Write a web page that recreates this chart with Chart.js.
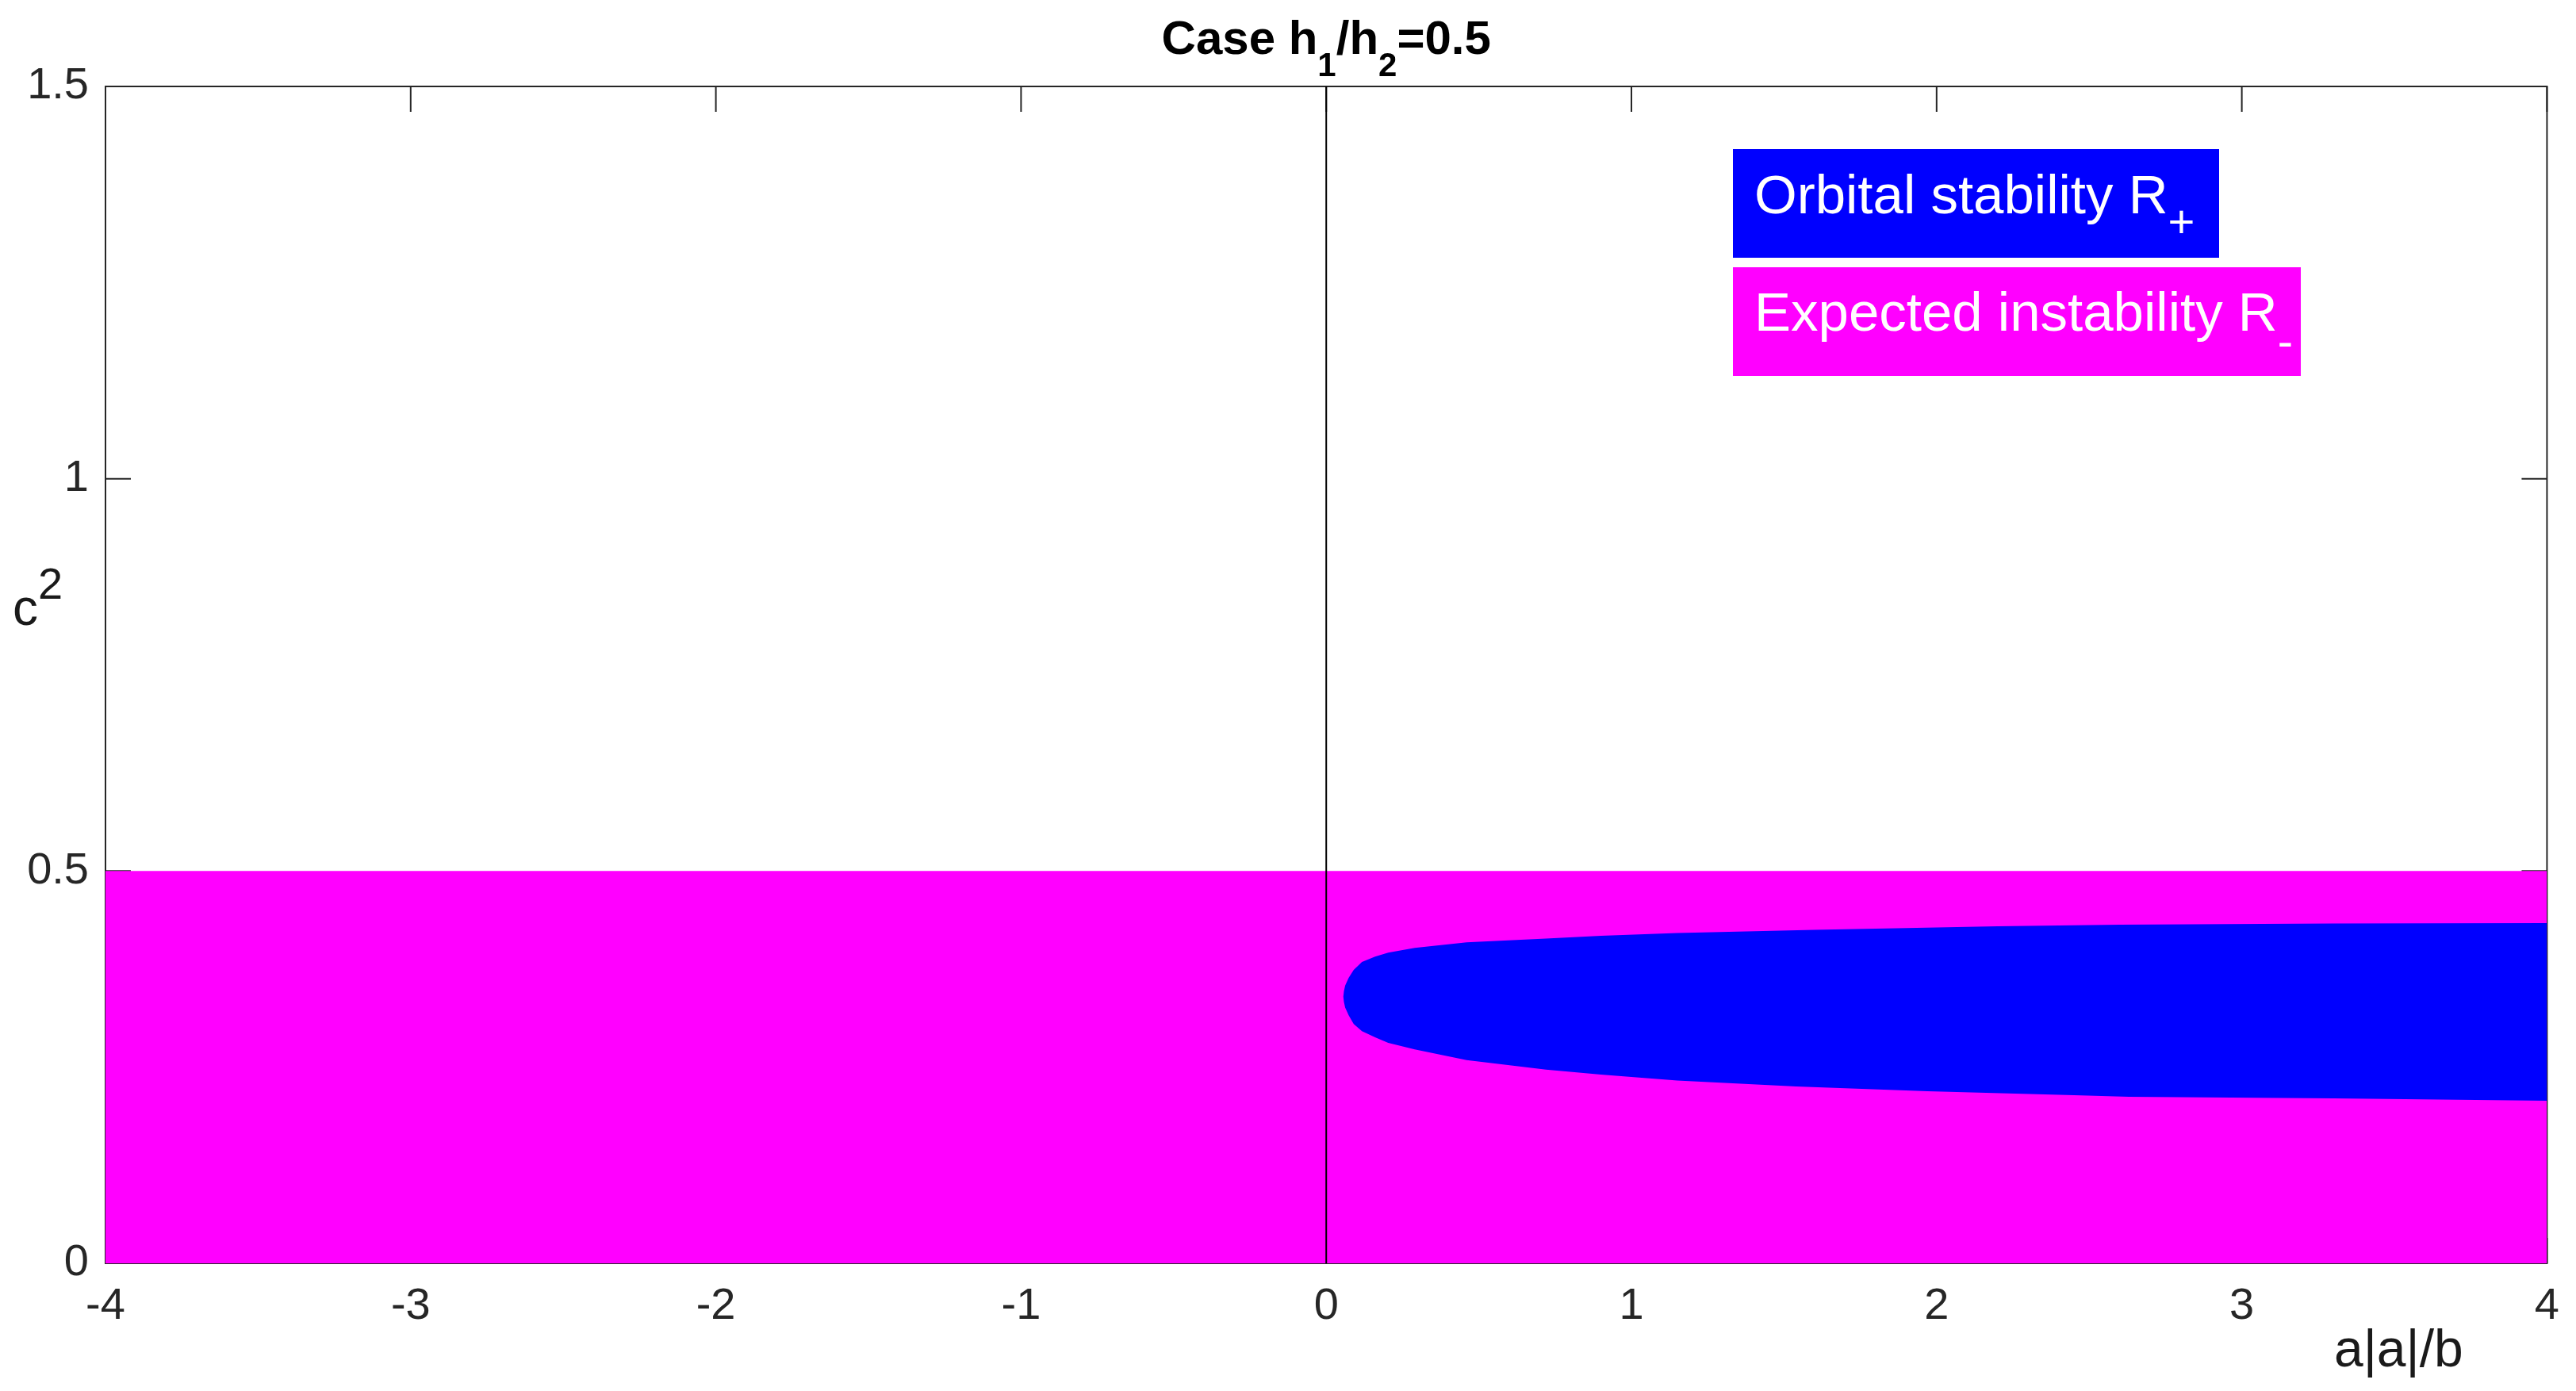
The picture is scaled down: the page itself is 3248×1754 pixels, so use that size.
<!DOCTYPE html>
<html>
<head>
<meta charset="utf-8">
<script src="https://cdn.jsdelivr.net/npm/chart.js@4.4.1/dist/chart.umd.min.js"></script>
<style>
    html, body { margin: 0; padding: 0; background: #fff; }
    canvas { display: block; }
</style>
</head>
<body>
<canvas id="regionChart" width="3248" height="1754"></canvas>
<script>
const xTicks = [-4, -3, -2, -1, 0, 1, 2, 3, 4]
const yTicks = [0, 0.5, 1, 1.5]

// R- : everything under c^2 = 0.5
const unstableX = [-4, 4]
const unstableC = [0.5, 0.5]

// R+ : upper and lower edge of the blue tongue
const stableUpperX = [0.056, 0.058, 0.062, 0.0735, 0.09, 0.117, 0.16, 0.203, 0.29, 0.46, 0.72, 0.90, 1.15, 1.6, 2.2, 2.6, 3.3, 4.0]
const stableUpperC = [0.340, 0.347, 0.354, 0.364, 0.374, 0.384, 0.391, 0.396, 0.402, 0.409, 0.414, 0.4175, 0.421, 0.425, 0.4295, 0.4315, 0.433, 0.4336]
const stableLowerX = [0.058, 0.062, 0.0735, 0.09, 0.117, 0.16, 0.203, 0.29, 0.46, 0.72, 0.90, 1.15, 1.54, 1.97, 2.45, 2.63, 3.3, 4.0]
const stableLowerC = [0.333, 0.326, 0.316, 0.305, 0.296, 0.288, 0.281, 0.2726, 0.259, 0.247, 0.2406, 0.233, 0.2254, 0.2193, 0.2143, 0.2123, 0.2103, 0.2072]

const zeroLineX = [0, 0]
const zeroLineC = [0, 1.5]

const FONT = '"Liberation Sans", Arial, Helvetica, sans-serif'

const toPoints = (xs, ys) => xs.map((x, i) => ({ x, y: ys[i] }))

// closed outline: along the top edge to the right, back along the bottom edge
const stableOutline = toPoints(stableUpperX, stableUpperC)
    .concat(toPoints(stableLowerX, stableLowerC).reverse())

// draws text pieces (with sub/superscripts) starting at x on baseline y
function richText(ctx, parts, x, y, weight, measureOnly) {
    let cx = x
    parts.forEach(p => {
        ctx.font = `${weight} ${p.size}px ${FONT}`
        if (!measureOnly) ctx.fillText(p.t, cx, y + (p.dy || 0))
        cx += ctx.measureText(p.t).width
    })
    return cx - x
}

const frame = {
    id: 'frame',
    beforeDatasetsDraw(chart) {
        const { ctx, chartArea: a, scales: { x, y } } = chart
        ctx.save()
        ctx.strokeStyle = '#262626'
        ctx.lineWidth = 2
        ctx.strokeRect(a.left, a.top, a.right - a.left, a.bottom - a.top)
        ctx.beginPath()
        xTicks.forEach(v => {
            const px = x.getPixelForValue(v)
            ctx.moveTo(px, a.bottom); ctx.lineTo(px, a.bottom - 32)
            ctx.moveTo(px, a.top); ctx.lineTo(px, a.top + 32)
        })
        yTicks.forEach(v => {
            const py = y.getPixelForValue(v)
            ctx.moveTo(a.left, py); ctx.lineTo(a.left + 32, py)
            ctx.moveTo(a.right, py); ctx.lineTo(a.right - 32, py)
        })
        ctx.stroke()
        ctx.restore()
    },
    afterDraw(chart) {
        const { ctx, chartArea: a } = chart
        ctx.save()
        ctx.textAlign = 'left'
        ctx.textBaseline = 'alphabetic'

        // title
        ctx.fillStyle = '#000'
        const title = [
            { t: 'Case h', size: 60 }, { t: '1', size: 42, dy: 28 },
            { t: '/h', size: 60 }, { t: '2', size: 42, dy: 28 },
            { t: '=0.5', size: 60 }
        ]
        const tw = richText(ctx, title, 0, 0, 'bold', true)
        richText(ctx, title, (a.left + a.right) / 2 - tw / 2, 68, 'bold')

        // axis labels
        ctx.fillStyle = '#1a1a1a'
        richText(ctx, [{ t: 'a|a|/b', size: 66 }], 2943, 1723, 'normal')
        richText(ctx, [{ t: 'c', size: 64 }, { t: '2', size: 56, dy: -33 }], 16, 788, 'normal')

        // legend boxes
        ctx.fillStyle = '#0000ff'
        ctx.fillRect(2185, 188, 613, 137)
        ctx.fillStyle = '#ff00ff'
        ctx.fillRect(2185, 337, 716, 137)
        ctx.fillStyle = '#fff'
        richText(ctx, [{ t: 'Orbital stability R', size: 69 }, { t: '+', size: 58, dy: 30 }], 2212, 269, 'normal')
        richText(ctx, [{ t: 'Expected instability R', size: 69 }, { t: '-', size: 58, dy: 33 }], 2212, 417, 'normal')
        ctx.restore()
    }
}

new Chart(document.getElementById('regionChart'), {
    type: 'scatter',
    data: {
        datasets: [
            {
                label: 'x = 0',
                data: toPoints(zeroLineX, zeroLineC),
                showLine: true,
                borderColor: '#000',
                borderWidth: 2,
                pointRadius: 0,
                fill: false
            },
            {
                label: 'Orbital stability R+',
                data: stableOutline,
                showLine: true,
                borderWidth: 0,
                borderColor: 'rgba(0,0,0,0)',
                backgroundColor: '#0000ff',
                pointRadius: 0,
                tension: 0,
                fill: 'shape'
            },
            {
                label: 'Expected instability R-',
                data: toPoints(unstableX, unstableC),
                showLine: true,
                borderWidth: 0,
                borderColor: 'rgba(0,0,0,0)',
                backgroundColor: '#ff00ff',
                pointRadius: 0,
                fill: 'origin'
            }
        ]
    },
    options: {
        responsive: false,
        animation: false,
        devicePixelRatio: 1,
        layout: { padding: { left: 0, top: 109, right: 8, bottom: 0 } },
        plugins: {
            legend: { display: false },
            title: { display: false },
            tooltip: { enabled: false }
        },
        scales: {
            x: {
                type: 'linear',
                min: -4,
                max: 4,
                grid: { display: false, drawTicks: false },
                border: { display: false },
                afterBuildTicks: s => { s.ticks = xTicks.map(value => ({ value })) },
                afterFit: s => { s.height = 161 },
                ticks: {
                    padding: 21,
                    color: '#262626',
                    font: { family: FONT, size: 56 },
                    callback: v => String(v)
                }
            },
            y: {
                type: 'linear',
                min: 0,
                max: 1.5,
                grid: { display: false, drawTicks: false },
                border: { display: false },
                afterBuildTicks: s => { s.ticks = yTicks.map(value => ({ value })) },
                afterFit: s => { s.width = 133 },
                ticks: {
                    padding: 21,
                    color: '#262626',
                    font: { family: FONT, size: 56 },
                    callback: v => String(v)
                }
            }
        }
    },
    plugins: [frame]
})
</script>
</body>
</html>
